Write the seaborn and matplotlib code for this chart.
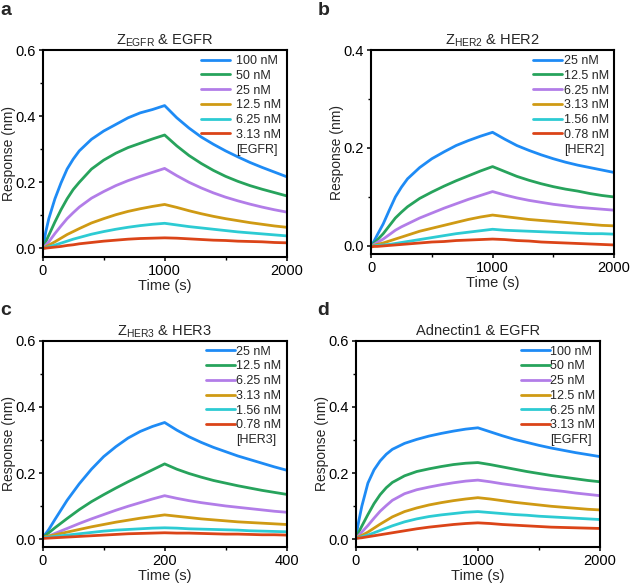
import numpy as np
import pandas as pd
import matplotlib
matplotlib.use("Agg")
import matplotlib.pyplot as plt
import seaborn as sns
from matplotlib.ticker import MultipleLocator, FormatStrFormatter
from matplotlib.lines import Line2D

# ---------------- data ----------------
T_LONG = [0, 25, 50, 100, 150, 200, 250, 300, 400, 500, 600, 700, 800, 900, 1000,
          1100, 1200, 1300, 1400, 1500, 1600, 1700, 1800, 1900, 2000]
T_SHORT = [0, 10, 20, 40, 60, 80, 100, 120, 140, 160, 180, 200,
           220, 240, 260, 280, 300, 320, 340, 360, 380, 400]

conc_a = ["100 nM", "50 nM", "25 nM", "12.5 nM", "6.25 nM", "3.13 nM"]
conc_b = ["25 nM", "12.5 nM", "6.25 nM", "3.13 nM", "1.56 nM", "0.78 nM"]
conc_c = ["25 nM", "12.5 nM", "6.25 nM", "3.13 nM", "1.56 nM", "0.78 nM"]
conc_d = ["100 nM", "50 nM", "25 nM", "12.5 nM", "6.25 nM", "3.13 nM"]

a_100 = [0.0, 0.05, 0.09, 0.15, 0.198, 0.24, 0.27, 0.295, 0.33, 0.355, 0.375, 0.395, 0.41, 0.42, 0.432,
         0.395, 0.364, 0.337, 0.315, 0.295, 0.277, 0.26, 0.245, 0.231, 0.217]
a_50 = [0.0, 0.02, 0.04, 0.08, 0.117, 0.15, 0.178, 0.2, 0.24, 0.267, 0.288, 0.305, 0.318, 0.331, 0.343,
        0.31, 0.281, 0.257, 0.236, 0.218, 0.203, 0.19, 0.179, 0.169, 0.159]
a_25 = [0.0, 0.01, 0.02, 0.045, 0.068, 0.09, 0.108, 0.125, 0.152, 0.172, 0.19, 0.205, 0.218, 0.23, 0.242,
        0.22, 0.2, 0.183, 0.168, 0.155, 0.144, 0.134, 0.125, 0.117, 0.11]
a_12 = [0.0, 0.005, 0.01, 0.02, 0.031, 0.042, 0.051, 0.06, 0.077, 0.09, 0.102, 0.112, 0.12, 0.127, 0.133,
        0.124, 0.114, 0.105, 0.097, 0.09, 0.084, 0.078, 0.073, 0.068, 0.064]
a_6 = [0.0, 0.002, 0.005, 0.01, 0.016, 0.022, 0.028, 0.033, 0.043, 0.051, 0.058, 0.064, 0.069, 0.073, 0.076,
       0.071, 0.066, 0.062, 0.058, 0.054, 0.05, 0.047, 0.044, 0.041, 0.038]
a_3 = [0.0, 0.001, 0.002, 0.004, 0.006, 0.009, 0.011, 0.014, 0.018, 0.022, 0.025, 0.028, 0.03, 0.031, 0.032,
       0.031, 0.029, 0.027, 0.025, 0.024, 0.022, 0.021, 0.02, 0.018, 0.017]

b_25 = [0.0, 0.01, 0.022, 0.045, 0.073, 0.1, 0.12, 0.137, 0.16, 0.178, 0.192, 0.205, 0.215, 0.224, 0.232,
        0.218, 0.205, 0.195, 0.186, 0.178, 0.171, 0.165, 0.16, 0.155, 0.15]
b_12 = [0.0, 0.006, 0.012, 0.025, 0.041, 0.057, 0.069, 0.08, 0.097, 0.11, 0.122, 0.133, 0.143, 0.153, 0.162,
        0.152, 0.142, 0.134, 0.127, 0.121, 0.116, 0.112, 0.107, 0.103, 0.1]
b_6 = [0.0, 0.003, 0.007, 0.014, 0.023, 0.032, 0.039, 0.045, 0.057, 0.067, 0.077, 0.086, 0.095, 0.103, 0.111,
       0.104, 0.098, 0.093, 0.089, 0.085, 0.082, 0.079, 0.077, 0.075, 0.073]
b_3 = [0.0, 0.001, 0.003, 0.006, 0.01, 0.014, 0.018, 0.022, 0.03, 0.036, 0.042, 0.048, 0.054, 0.059, 0.063,
       0.06, 0.057, 0.054, 0.052, 0.05, 0.048, 0.046, 0.044, 0.042, 0.041]
b_1 = [0.0, 0.0, 0.001, 0.002, 0.003, 0.005, 0.007, 0.009, 0.013, 0.017, 0.021, 0.025, 0.028, 0.031, 0.034,
       0.032, 0.031, 0.03, 0.029, 0.028, 0.027, 0.026, 0.025, 0.025, 0.024]
b_0 = [-0.002, -0.001, -0.001, 0.0, 0.001, 0.002, 0.003, 0.004, 0.006, 0.008, 0.009, 0.011, 0.012, 0.013, 0.014,
       0.013, 0.011, 0.01, 0.008, 0.007, 0.006, 0.005, 0.004, 0.003, 0.002]

c_25 = [0.005, 0.03, 0.06, 0.118, 0.168, 0.212, 0.25, 0.28, 0.306, 0.326, 0.341, 0.353,
        0.33, 0.31, 0.293, 0.278, 0.265, 0.252, 0.241, 0.23, 0.219, 0.209]
c_12 = [0.005, 0.02, 0.035, 0.063, 0.09, 0.114, 0.135, 0.155, 0.174, 0.192, 0.21, 0.228,
        0.212, 0.199, 0.188, 0.178, 0.17, 0.162, 0.155, 0.148, 0.142, 0.136]
c_6 = [0.003, 0.01, 0.018, 0.033, 0.048, 0.062, 0.075, 0.088, 0.1, 0.111, 0.122, 0.132,
       0.124, 0.117, 0.111, 0.106, 0.101, 0.097, 0.093, 0.089, 0.085, 0.082]
c_3 = [0.007, 0.01, 0.014, 0.022, 0.03, 0.038, 0.045, 0.052, 0.058, 0.064, 0.069, 0.074,
       0.07, 0.066, 0.062, 0.059, 0.056, 0.053, 0.051, 0.049, 0.047, 0.045]
c_1 = [0.005, 0.007, 0.009, 0.013, 0.017, 0.021, 0.025, 0.028, 0.03, 0.032, 0.034, 0.035,
       0.034, 0.032, 0.031, 0.03, 0.029, 0.028, 0.026, 0.025, 0.024, 0.023]
c_0 = [0.003, 0.004, 0.005, 0.007, 0.009, 0.011, 0.013, 0.015, 0.017, 0.018, 0.019, 0.02,
       0.019, 0.019, 0.018, 0.017, 0.016, 0.016, 0.015, 0.014, 0.014, 0.013]

d_100 = [0.005, 0.055, 0.1, 0.17, 0.21, 0.237, 0.257, 0.272, 0.29, 0.302, 0.312, 0.32, 0.327, 0.333, 0.337,
         0.325, 0.313, 0.302, 0.293, 0.284, 0.276, 0.269, 0.262, 0.256, 0.25]
d_50 = [0.005, 0.022, 0.04, 0.075, 0.108, 0.135, 0.156, 0.172, 0.192, 0.205, 0.213, 0.22, 0.226, 0.23, 0.232,
        0.226, 0.219, 0.212, 0.205, 0.199, 0.193, 0.188, 0.183, 0.178, 0.174]
d_25 = [0.004, 0.012, 0.022, 0.042, 0.064, 0.085, 0.102, 0.118, 0.138, 0.15, 0.158, 0.165, 0.171, 0.176, 0.179,
        0.174, 0.168, 0.163, 0.158, 0.153, 0.149, 0.145, 0.14, 0.136, 0.132]
d_12 = [0.004, 0.008, 0.012, 0.022, 0.034, 0.046, 0.057, 0.068, 0.084, 0.095, 0.104, 0.111, 0.117, 0.122, 0.126,
        0.122, 0.117, 0.112, 0.108, 0.104, 0.1, 0.097, 0.094, 0.091, 0.089]
d_6 = [0.003, 0.005, 0.008, 0.013, 0.02, 0.027, 0.034, 0.041, 0.053, 0.062, 0.069, 0.074, 0.078, 0.082, 0.084,
       0.081, 0.078, 0.075, 0.073, 0.07, 0.068, 0.066, 0.064, 0.062, 0.06]
d_3 = [0.003, 0.004, 0.005, 0.008, 0.011, 0.014, 0.017, 0.02, 0.026, 0.032, 0.037, 0.041, 0.045, 0.048, 0.05,
       0.048, 0.045, 0.043, 0.041, 0.039, 0.037, 0.036, 0.035, 0.034, 0.033]

COLORS = ["#1E8BF5", "#27A35C", "#B27DE8", "#CF9A14", "#2DCBD3", "#DB4418"]

# ---------------- style ----------------
sns.set_style("ticks")
plt.rcParams["font.family"] = ["Liberation Sans", "DejaVu Sans"]
plt.rcParams["mathtext.default"] = "regular"

FIG_W, FIG_H = 630, 585
fig = plt.figure(figsize=(FIG_W / 100, FIG_H / 100), dpi=100)

panels = [
    dict(letter="a", title=r"Z$_{EGFR}$ & EGFR", t=T_LONG, conc=conc_a,
         ys=[a_100, a_50, a_25, a_12, a_6, a_3], tag="[EGFR]",
         rect=[0.0678, 0.5612, 0.387, 0.3533], ylim=(-0.025, 0.6), ymaj=0.2,
         xlim=(0, 2000), xmaj=1000, hpad=0.5, lpos=(0.0, 0.997)),
    dict(letter="b", title=r"Z$_{HER2}$ & HER2", t=T_LONG, conc=conc_b,
         ys=[b_25, b_12, b_6, b_3, b_1, b_0], tag="[HER2]",
         rect=[0.589, 0.5658, 0.3857, 0.3487], ylim=(-0.0165, 0.4), ymaj=0.2,
         xlim=(0, 2000), xmaj=1000, hpad=0.15, lpos=(0.505, 0.997)),
    dict(letter="c", title=r"Z$_{HER3}$ & HER3", t=T_SHORT, conc=conc_c,
         ys=[c_25, c_12, c_6, c_3, c_1, c_0], tag="[HER3]",
         rect=[0.0678, 0.0655, 0.387, 0.3521], ylim=(-0.022, 0.6), ymaj=0.2,
         xlim=(0, 400), xmaj=200, hpad=0.15, lpos=(0.0, 0.484)),
    dict(letter="d", title="Adnectin1 & EGFR", t=T_LONG, conc=conc_d,
         ys=[d_100, d_50, d_25, d_12, d_6, d_3], tag="[EGFR]",
         rect=[0.5646, 0.0655, 0.3878, 0.3521], ylim=(-0.022, 0.6), ymaj=0.2,
         xlim=(0, 2000), xmaj=1000, hpad=0.0, lpos=(0.503, 0.484)),
]

for p in panels:
    ax = fig.add_axes(p["rect"])
    n = len(p["t"])
    df = pd.DataFrame({
        "Time": np.tile(p["t"], len(p["conc"])),
        "Response": np.concatenate([np.asarray(y, float) for y in p["ys"]]),
        "Conc": np.repeat(p["conc"], n),
    })
    sns.lineplot(data=df, x="Time", y="Response", hue="Conc",
                 hue_order=p["conc"], palette=COLORS, estimator=None,
                 sort=False, legend=False, lw=2.0, ax=ax)
    ax.set_xlim(*p["xlim"])
    ax.set_ylim(*p["ylim"])
    ax.xaxis.set_major_locator(MultipleLocator(p["xmaj"]))
    ax.xaxis.set_minor_locator(MultipleLocator(p["xmaj"] / 2))
    ax.yaxis.set_major_locator(MultipleLocator(p["ymaj"]))
    ax.yaxis.set_minor_locator(MultipleLocator(p["ymaj"] / 2))
    ax.yaxis.set_major_formatter(FormatStrFormatter("%.1f"))
    ax.tick_params(which="major", direction="out", length=3, width=1.1,
                   labelsize=10.5, pad=2, color="black", labelcolor="black")
    ax.tick_params(which="minor", direction="out", length=2, width=1.0, color="black")
    for s in ax.spines.values():
        s.set_visible(True)
        s.set_linewidth(1.5)
        s.set_color("black")
    ax.set_xlabel("Time (s)", fontsize=10.5, labelpad=1)
    ax.set_ylabel("Response (nm)", fontsize=10)
    ax_w_px = p["rect"][2] * FIG_W
    ax.yaxis.set_label_coords(-27.0 / ax_w_px, 0.5)
    ax.set_title(p["title"], fontsize=10.5, pad=4)

    handles = [Line2D([], [], color=c, lw=2.0) for c in COLORS]
    handles.append(Line2D([], [], color="none"))
    labels = list(p["conc"]) + [p["tag"]]
    ax.legend(handles, labels, loc="upper right", frameon=False, fontsize=9,
              handlelength=2.3, handletextpad=p["hpad"], labelspacing=0.22,
              borderpad=0.0, borderaxespad=0.4)

    fig.text(p["lpos"][0], p["lpos"][1], p["letter"],
             fontsize=14, fontweight="bold", va="top", ha="left")

fig.savefig("out.png", dpi=100)
